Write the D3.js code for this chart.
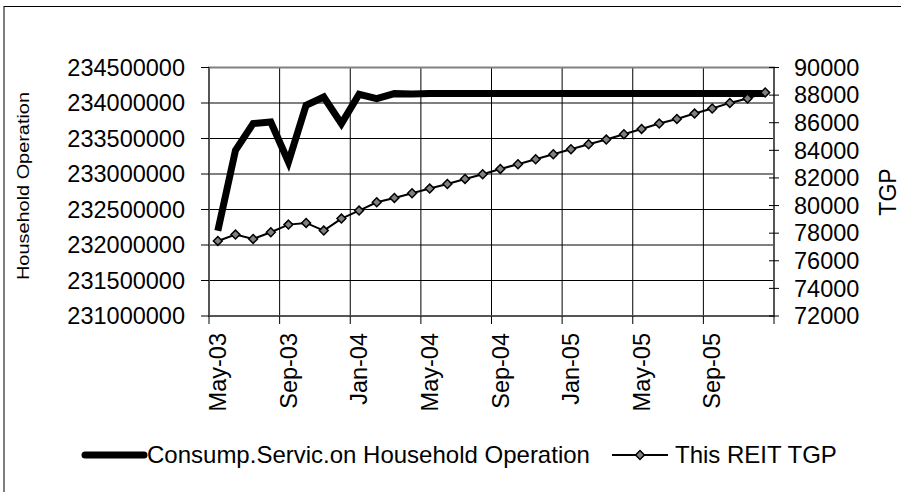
<!DOCTYPE html>
<html>
<head>
<meta charset="utf-8">
<script src="https://cdn.jsdelivr.net/npm/d3@7"></script>
<style>
  html, body { margin: 0; padding: 0; background: #fff; }
  svg { display: block; font-family: "Liberation Sans", Arial, sans-serif; }
</style>
</head>
<body>
<svg id="chart" width="901" height="492"></svg>
<script>
const months = ["May-03","Jun-03","Jul-03","Aug-03","Sep-03","Oct-03","Nov-03","Dec-03",
  "Jan-04","Feb-04","Mar-04","Apr-04","May-04","Jun-04","Jul-04","Aug-04","Sep-04","Oct-04","Nov-04","Dec-04",
  "Jan-05","Feb-05","Mar-05","Apr-05","May-05","Jun-05","Jul-05","Aug-05","Sep-05","Oct-05","Nov-05","Dec-05"];
const household = [232200000, 233334000, 233710000, 233732000, 233169000, 233968000, 234085000, 233710000,
  234123000, 234062000, 234132000, 234128000, 234133000, 234134000, 234134000, 234135000, 234135000, 234135000,
  234135000, 234135000, 234135000, 234135000, 234135000, 234135000, 234135000, 234135000, 234135000, 234135000,
  234135000, 234135000, 234135000, 234135000];
const tgp = [77435, 77898, 77580, 78065, 78620, 78740, 78190, 79058, 79638, 80240, 80551, 80891, 81232, 81560,
  81928, 82268, 82652, 82993, 83355, 83717, 84080, 84442, 84783, 85167, 85551, 85942, 86275, 86666, 87030,
  87435, 87754, 88188];
const leftTicks = [231000000, 231500000, 232000000, 232500000, 233000000, 233500000, 234000000, 234500000];
const rightTicks = [72000, 74000, 76000, 78000, 80000, 82000, 84000, 86000, 88000, 90000];
const seriesNames = ["Consump.Servic.on Household Operation", "This REIT TGP"];
const leftTitle = "Household Operation";
const rightTitle = "TGP";

const svg = d3.select("#chart");
const L = 209, R = 774, T = 67.5, B = 316;

// outer border
svg.append("rect").attr("x", 4).attr("y", 6.5).attr("width", 950).attr("height", 600)
  .attr("fill", "none").attr("stroke", "#000").attr("stroke-width", 1);

const x = d3.scaleBand().domain(months).range([L, R]).padding(0);
const bw = x.bandwidth();
const cx = d => x(d) + bw / 2;
const yL = d3.scaleLinear().domain([231000000, 234500000]).range([B, T]);
const yR = d3.scaleLinear().domain([72000, 90000]).range([B, T]);

// horizontal gridlines
svg.append("g").selectAll("line").data(leftTicks).join("line")
  .attr("x1", L).attr("x2", R).attr("y1", d => yL(d)).attr("y2", d => yL(d))
  .attr("stroke", "#000").attr("stroke-width", 1);

// vertical gridlines every 4 categories
const boundaryIdx = d3.range(0, months.length + 1, 4);
const bx = i => (i < months.length ? x(months[i]) : R);
svg.append("g").selectAll("line").data(boundaryIdx.filter(i => i > 0 && i < months.length)).join("line")
  .attr("x1", i => bx(i)).attr("x2", i => bx(i)).attr("y1", T).attr("y2", B)
  .attr("stroke", "#000").attr("stroke-width", 1);

// plot frame
svg.append("rect").attr("x", L).attr("y", T).attr("width", R - L).attr("height", B - T)
  .attr("fill", "none").attr("stroke", "#808080").attr("stroke-width", 2);
svg.append("line").attr("x1", L).attr("x2", L).attr("y1", T).attr("y2", B).attr("stroke", "#555").attr("stroke-width", 2);
svg.append("line").attr("x1", L).attr("x2", R).attr("y1", B).attr("y2", B).attr("stroke", "#555").attr("stroke-width", 2);
svg.append("line").attr("x1", R).attr("x2", R).attr("y1", T).attr("y2", B).attr("stroke", "#555").attr("stroke-width", 2);

// left axis
const gl = svg.append("g");
gl.selectAll("line").data(leftTicks).join("line")
  .attr("x1", L - 8).attr("x2", L).attr("y1", d => yL(d)).attr("y2", d => yL(d))
  .attr("stroke", "#000").attr("stroke-width", 1);
gl.selectAll("text").data(leftTicks).join("text")
  .attr("x", 185).attr("y", d => yL(d)).attr("dy", "0.35em").attr("text-anchor", "end")
  .attr("font-size", 23.5).attr("fill", "#000").text(d => d3.format("d")(d));

// right axis
const gr = svg.append("g");
gr.selectAll("line").data(rightTicks).join("line")
  .attr("x1", R - 5).attr("x2", R + 5).attr("y1", d => yR(d)).attr("y2", d => yR(d))
  .attr("stroke", "#000").attr("stroke-width", 1);
gr.selectAll("text").data(rightTicks).join("text")
  .attr("x", 794).attr("y", d => yR(d)).attr("dy", "0.35em").attr("text-anchor", "start")
  .attr("font-size", 23.5).attr("fill", "#000").text(d => d3.format("d")(d));

// x axis ticks and labels
const gx = svg.append("g");
gx.selectAll("line").data(boundaryIdx).join("line")
  .attr("x1", i => bx(i)).attr("x2", i => bx(i)).attr("y1", B).attr("y2", B + 8)
  .attr("stroke", "#000").attr("stroke-width", 1);
gx.selectAll("text").data(months.filter((m, i) => i % 4 === 0)).join("text")
  .attr("transform", d => `translate(${cx(d)},333) rotate(-90)`)
  .attr("dy", "0.35em").attr("text-anchor", "end")
  .attr("font-size", 23.5).attr("fill", "#000").text(d => d);

// axis titles
svg.append("text").attr("transform", "translate(29,186) rotate(-90)")
  .attr("text-anchor", "middle").attr("font-size", 16).attr("fill", "#000")
  .attr("textLength", 188).attr("lengthAdjust", "spacingAndGlyphs").text(leftTitle);
svg.append("text").attr("transform", "translate(896,192) rotate(-90)")
  .attr("text-anchor", "middle").attr("font-size", 23).attr("fill", "#000").text(rightTitle);

// series lines
const lineL = d3.line().x((d, i) => cx(months[i])).y(d => yL(d));
const lineR = d3.line().x((d, i) => cx(months[i])).y(d => yR(d));
svg.append("path").datum(household).attr("d", lineL)
  .attr("fill", "none").attr("stroke", "#000").attr("stroke-width", 7).attr("stroke-linejoin", "miter");
svg.append("path").datum(tgp).attr("d", lineR)
  .attr("fill", "none").attr("stroke", "#000").attr("stroke-width", 2);
const diamond = d3.symbol().type(d3.symbolDiamond2).size(50);
svg.append("g").selectAll("path").data(tgp).join("path")
  .attr("d", diamond)
  .attr("transform", (d, i) => `translate(${cx(months[i])},${yR(d)})`)
  .attr("fill", "#808080").attr("stroke", "#000").attr("stroke-width", 1.5);

// legend
const lg = svg.append("g");
lg.append("line").attr("x1", 85).attr("x2", 144).attr("y1", 455).attr("y2", 455)
  .attr("stroke", "#000").attr("stroke-width", 7).attr("stroke-linecap", "round");
lg.append("text").attr("x", 147).attr("y", 455).attr("dy", "0.35em").attr("font-size", 24)
  .attr("fill", "#000").text(seriesNames[0]);
lg.append("line").attr("x1", 612).attr("x2", 668).attr("y1", 455).attr("y2", 455)
  .attr("stroke", "#000").attr("stroke-width", 2);
lg.append("path").attr("d", diamond).attr("transform", "translate(640,455)")
  .attr("fill", "#808080").attr("stroke", "#000").attr("stroke-width", 1.5);
lg.append("text").attr("x", 675).attr("y", 455).attr("dy", "0.35em").attr("font-size", 24)
  .attr("fill", "#000").text(seriesNames[1]);
</script>
</body>
</html>
